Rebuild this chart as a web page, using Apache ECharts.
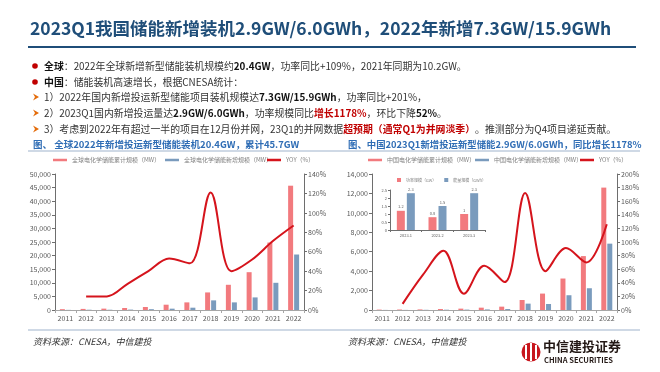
<!DOCTYPE html>
<html><head><meta charset="utf-8">
<script src="https://cdn.jsdelivr.net/npm/echarts@6/dist/echarts.min.js"></script>
<style>html,body{margin:0;padding:0;background:#fff}#c{width:660px;height:372px}</style>
</head><body><div id="c"></div>
<script>
// ---- data ----
const years = ['2011','2012','2013','2014','2015','2016','2017','2018','2019','2020','2021','2022'];
const globalCum = [300, 400, 500, 730, 1100, 1950, 2800, 6460, 9270, 13900, 24800, 45700];
const globalNew = [50, 100, 100, 150, 300, 490, 850, 3540, 2800, 4630, 10000, 20400];
const globalYoy = [null, 14, 14, 27, 40, 53, 48, 121, 40, 52, 71, 87];
const chinaCum = [40, 50, 60, 100, 140, 240, 345, 1030, 1690, 3240, 5550, 12600];
const chinaNew = [10, 10, 20, 30, 40, 60, 100, 655, 620, 1520, 2240, 6830];
const chinaYoy = [null, 9, 52, 87, 24, 65, 41, 172, 57, 91, 70, 126];
const months = ['2023.1','2023.2','2023.3'];
const monthPower = [1.2, 0.8, 1];
const monthEnergy = [2.3, 1.5, 2.3];
const leftTicks = {min:0, max:50000, interval:5000};
const leftPct = {min:0, max:140, interval:20};
const rightTicks = {min:0, max:14000, interval:2000};
const rightPct = {min:0, max:200, interval:20};
const insetTicks = {min:0, max:2.5, interval:0.5};

const N = {gCum:'全球电化学储能累计规模（MW）', gNew:'全球电化学储能新增规模（MW）',
  cCum:'中国电化学储能累计规模（MW）', cNew:'中国电化学储能新增规模（MW）', yoy:'YOY（%）',
  mP:'功率规模（GW）', mE:'能量规模（GWh）'};

const PINK='#F27A7E', BLUE='#7A9BBD', RED='#D5141C', AX='#6E6E6E', LBL='#595959';
const FF='"Noto Sans CJK SC", "Noto Sans", sans-serif';

function catX(gi){return {type:'category', gridIndex:gi, data:years,
  axisLine:{lineStyle:{color:'#A6A6A6'}}, axisTick:{show:true,length:3,lineStyle:{color:'#A6A6A6'}},
  axisLabel:{fontSize:7, color:LBL, margin:5, fontFamily:FF}};}
function valY(gi, t, pos, fmt){return {type:'value', gridIndex:gi, position:pos, min:t.min, max:t.max, interval:t.interval,
  axisLine:{show:true, lineStyle:{color:AX}}, axisTick:{show:true,length:3,lineStyle:{color:AX}},
  splitLine:{show:false}, axisLabel:{fontSize:7, color:LBL, margin:4, fontFamily:FF, formatter:fmt}};}

const chart = echarts.init(document.getElementById('c'));
const FS = 9.9;
const bodyRich = {
  b:{fontWeight:'bold', fontSize:FS, fontFamily:FF, fill:'#111', color:'#111'},
  r:{fontWeight:'bold', fontSize:FS, fontFamily:FF, fill:'#C00000', color:'#C00000'}
};
function bodyText(x,y,t){return {type:'text', x:x, y:y, silent:true, style:{text:t, fontSize:FS, fontFamily:FF, fill:'#333', verticalAlign:'middle', rich:bodyRich}};}
function arrow(x,y){return {type:'polygon', silent:true, shape:{points:[[x,y-3.5],[x+6,y],[x,y+3.5],[x+2,y]]}, style:{fill:'#E46C0A'}};}
function dot(x,y){return {type:'circle', silent:true, shape:{cx:x,cy:y,r:2.8}, style:{fill:'#C00000'}};}

const graphic = [
  {type:'text', x:30, y:28, silent:true, style:{text:'2023Q1我国储能新增装机2.9GW/6.0GWh，2022年新增7.3GW/15.9GWh', fontSize:17.5, fontWeight:'bold', fontFamily:FF, fill:'#1F4E79', verticalAlign:'middle'}},
  {type:'line', silent:true, shape:{x1:28,y1:47,x2:636,y2:47}, style:{stroke:'#1F4E79', lineWidth:2}},
  dot(35,66), bodyText(44,66,'{b|全球}：2022年全球新增新型储能装机规模约{b|20.4GW}，功率同比+109%，2021年同期为10.2GW。'),
  dot(35,82), bodyText(44,82,'{b|中国}：储能装机高速增长，根据CNESA统计：'),
  arrow(33,97), bodyText(44,97,'1）2022年国内新增投运新型储能项目装机规模达{b|7.3GW/15.9GWh}，功率同比+201%，'),
  arrow(33,113), bodyText(44,113,'2）2023Q1国内新增投运量达{b|2.9GW/6.0GWh}，功率规模同比{r|增长1178%}，环比下降{b|52%}。'),
  arrow(33,129), bodyText(44,129,'3）考虑到2022年有超过一半的项目在12月份并网，23Q1的并网数据{r|超预期（通常Q1为并网淡季）}。推测部分为Q4项目递延贡献。'),
  {type:'text', x:33, y:144, silent:true, style:{text:'图、 全球2022年新增投运新型储能装机20.4GW，累计45.7GW', fontSize:9.5, fontWeight:'bold', fontFamily:FF, fill:'#2F6DB5', verticalAlign:'middle'}},
  {type:'text', x:348, y:144, silent:true, style:{text:'图、中国2023Q1新增投运新型储能2.9GW/6.0GWh，同比增长1178%', fontSize:9.4, fontWeight:'bold', fontFamily:FF, fill:'#2F6DB5', verticalAlign:'middle'}},
  {type:'line', silent:true, shape:{x1:28,y1:151,x2:640,y2:151}, style:{stroke:'#9FB3CC', lineWidth:1}},
  {type:'line', silent:true, shape:{x1:28,y1:330,x2:640,y2:330}, style:{stroke:'#9FB3CC', lineWidth:1}},
  {type:'text', x:33, y:342, silent:true, style:{text:'资料来源：CNESA，中信建投', fontSize:9, fontStyle:'italic', fontFamily:FF, fill:'#333', verticalAlign:'middle'}},
  {type:'text', x:348, y:342, silent:true, style:{text:'资料来源：CNESA，中信建投', fontSize:9, fontStyle:'italic', fontFamily:FF, fill:'#333', verticalAlign:'middle'}},
  {type:'circle', silent:true, shape:{cx:531,cy:352,r:9.5}, style:{fill:'#C8161D'}},
  {type:'rect', silent:true, shape:{x:525,y:345,width:2,height:14}, style:{fill:'#fff'}},
  {type:'rect', silent:true, shape:{x:530,y:343,width:2,height:18}, style:{fill:'#fff'}},
  {type:'rect', silent:true, shape:{x:535,y:345,width:2,height:14}, style:{fill:'#fff'}},
  {type:'text', x:543, y:346, silent:true, style:{text:'中信建投证券', fontSize:13, fontWeight:'bold', fontFamily:FF, fill:'#231815', verticalAlign:'middle'}},
  {type:'text', x:544, y:360, silent:true, style:{text:'CHINA SECURITIES', fontSize:7.5, fontWeight:'bold', fontFamily:FF, fill:'#231815', verticalAlign:'middle'}}
];

const legTxt = {fontSize:6, color:'#808080', fontFamily:FF};
function leg(name, left){return {data:[name], left:left, top:157, icon:'rect', itemWidth:14, itemHeight:2.5, textStyle:legTxt, selectedMode:false, padding:0};}
chart.setOption({
  animation:false,
  textStyle:{fontFamily:FF},
  graphic: graphic,
  legend:[
    leg(N.gCum,53), leg(N.gNew,165), leg(N.yoy,267),
    leg(N.cCum,368), leg(N.cNew,475), leg(N.yoy,580),
    {data:[N.mP,N.mE], left:397, top:178, icon:'rect', itemWidth:4, itemHeight:4, itemGap:8, padding:0, textStyle:{fontSize:4, color:'#808080', fontFamily:FF}, selectedMode:false}
  ],
  grid:[
    {left:55, right:356, top:174, bottom:62},
    {left:372, right:43, top:174, bottom:62},
    {left:390, right:175, top:190, bottom:142}
  ],
  xAxis:[catX(0), catX(1),
    {type:'category', gridIndex:2, data:months, axisLine:{lineStyle:{color:AX}}, axisTick:{show:true,length:2,lineStyle:{color:AX}},
     axisLabel:{fontSize:4, color:LBL, margin:3, fontFamily:FF}}],
  yAxis:[
    valY(0,leftTicks,'left'), valY(0,leftPct,'right','{value}%'),
    valY(1,rightTicks,'left'), valY(1,rightPct,'right','{value}%'),
    {type:'value', gridIndex:2, min:insetTicks.min, max:insetTicks.max, interval:insetTicks.interval,
     axisLine:{show:true,lineStyle:{color:AX}}, axisTick:{show:true,length:2,lineStyle:{color:AX}}, splitLine:{show:false},
     axisLabel:{fontSize:4, color:LBL, margin:3, fontFamily:FF}}
  ],
  series:[
    {name:N.gCum, type:'bar', xAxisIndex:0, yAxisIndex:0, data:globalCum, barWidth:5, barGap:'20%', itemStyle:{color:PINK}},
    {name:N.gNew, type:'bar', xAxisIndex:0, yAxisIndex:0, data:globalNew, barWidth:5, barGap:'20%', itemStyle:{color:BLUE}},
    {name:N.yoy, type:'line', xAxisIndex:0, yAxisIndex:1, data:globalYoy, smooth:0.35, symbol:'none', lineStyle:{color:RED,width:2}, itemStyle:{color:RED}, z:5},
    {name:N.cCum, type:'bar', xAxisIndex:1, yAxisIndex:2, data:chinaCum, barWidth:5, barGap:'20%', itemStyle:{color:PINK}},
    {name:N.cNew, type:'bar', xAxisIndex:1, yAxisIndex:2, data:chinaNew, barWidth:5, barGap:'20%', itemStyle:{color:BLUE}},
    {name:N.yoy, type:'line', xAxisIndex:1, yAxisIndex:3, data:chinaYoy, smooth:0.35, symbol:'none', lineStyle:{color:RED,width:2}, itemStyle:{color:RED}, z:5},
    {name:N.mP, type:'bar', xAxisIndex:2, yAxisIndex:4, data:monthPower, barWidth:8, barGap:'25%', itemStyle:{color:PINK},
     label:{show:true, position:'top', fontSize:4, color:LBL, distance:2}},
    {name:N.mE, type:'bar', xAxisIndex:2, yAxisIndex:4, data:monthEnergy, barWidth:8, barGap:'25%', itemStyle:{color:BLUE},
     label:{show:true, position:'top', fontSize:4, color:LBL, distance:2}}
  ]
});
</script></body></html>
